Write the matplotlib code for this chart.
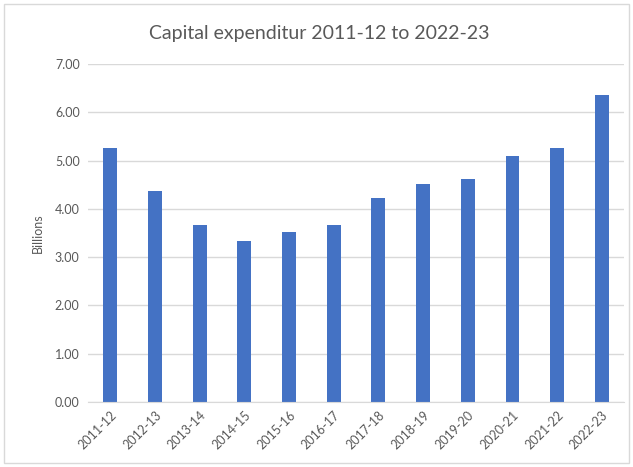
import matplotlib
matplotlib.use("Agg")
from matplotlib import pyplot as plt
from matplotlib.patches import Rectangle

years = ["2011-12", "2012-13", "2013-14", "2014-15", "2015-16", "2016-17",
         "2017-18", "2018-19", "2019-20", "2020-21", "2021-22", "2022-23"]
capex = [5.27, 4.36, 3.67, 3.33, 3.53, 3.67, 4.23, 4.51, 4.62, 5.09, 5.27, 6.36]
yticks = [0, 1, 2, 3, 4, 5, 6, 7]

plt.rcParams['font.family'] = ['Lato', 'DejaVu Sans']
txt = '#595959'
grid = '#D9D9D9'

fig = plt.figure(figsize=(6.33, 4.67), dpi=100)
ax = fig.add_axes([0.139, 0.139, 0.847, 0.724])

x = range(len(years))
ax.bar(x, capex, width=0.31, color='#4472C4', zorder=3)

ax.set_xlim(-0.5, len(years) - 0.5)
ax.set_ylim(0, 7)
ax.set_yticks(yticks)
ax.set_yticklabels([f"{v:.2f}" for v in yticks], fontsize=9, color=txt)
ax.set_xticks(list(x))
ax.set_xticklabels(years, rotation=45, ha='right', rotation_mode='anchor',
                   fontsize=9, color=txt)
ax.tick_params(length=0, pad=6)
ax.tick_params(axis='x', pad=5)
ax.yaxis.grid(True, color=grid, linewidth=1, zorder=0)
for s in ['top', 'right', 'left']:
    ax.spines[s].set_visible(False)
ax.spines['bottom'].set_color(grid)
ax.spines['bottom'].set_zorder(4)

ax.set_ylabel("Billions", fontsize=9, color=txt, labelpad=8)
fig.text(0.505, 0.928, "Capital expenditur 2011-12 to 2022-23", ha='center',
         va='center', fontsize=14, color=txt)

fig.patches.append(Rectangle((4 / 633, 4 / 467), 625 / 633, 459 / 467,
                             transform=fig.transFigure, fill=False,
                             edgecolor=grid, linewidth=1))

plt.savefig("out.png", dpi=100)
